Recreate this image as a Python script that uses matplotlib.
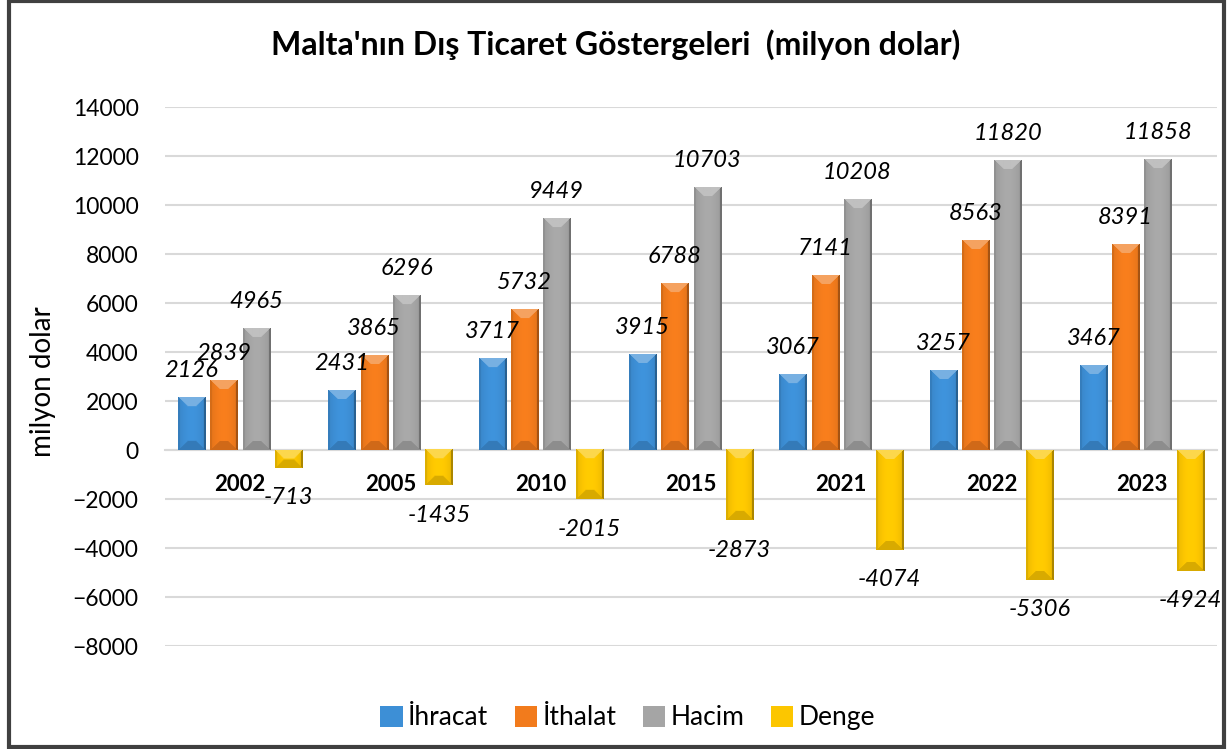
import numpy as np
import matplotlib.pyplot as plt
from matplotlib.colors import to_rgb
from matplotlib.patches import Rectangle

plt.rcParams["font.family"] = ["Lato", "DejaVu Sans"]

years = ["2002", "2005", "2010", "2015", "2021", "2022", "2023"]
ihracat = [2126, 2431, 3717, 3915, 3067, 3257, 3467]
ithalat = [2839, 3865, 5732, 6788, 7141, 8563, 8391]
hacim = [4965, 6296, 9449, 10703, 10208, 11820, 11858]
denge = [-713, -1435, -2015, -2873, -4074, -5306, -4924]

series = ["İhracat", "İthalat", "Hacim", "Denge"]
colors = ["#3d8fd6", "#f27b1c", "#a5a5a5", "#fcc600"]


def shade(ax, bar, col):
    # bevel look: light top facet, darker bottom facet, thin dark sides
    x0, y0 = bar.get_x(), bar.get_y()
    x1, y1 = x0 + bar.get_width(), y0 + bar.get_height()
    ylo, yhi = min(y0, y1), max(y0, y1)
    (px0, py0), (px1, py1) = ax.transData.transform([(x0, ylo), (x1, yhi)])
    w = max(int(round(px1 - px0)), 2)
    h = max(int(round(py1 - py0)), 2)
    yy, xx = np.mgrid[0:h, 0:w] + 0.5
    d_top, d_bot = yy, h - yy
    d_l, d_r = xx, w - xx
    side = np.minimum(d_l, d_r)
    bev = min(9.0, h / 2)
    base = np.array(to_rgb(col))
    t = xx / w
    f = 0.93 + 0.1 * np.sin(np.pi * t)
    img = np.clip(base[None, None, :] * f[..., None], 0, 1)
    top = (d_top < bev) & (d_top < side)
    bot = (d_bot < bev) & (d_bot < side) & ~top
    img[top] = base + (1 - base) * 0.3
    img[bot] = base * 0.86
    edge_l = (d_l < 2.0) & ~top & ~bot
    edge_r = (d_r < 2.0) & ~top & ~bot
    img[edge_l] = base * 0.88
    img[edge_r] = base * 0.68
    ax.imshow(img, extent=(x0, x1, ylo, yhi), origin="upper",
              aspect="auto", zorder=3.5, interpolation="bilinear")


fig = plt.figure(figsize=(12.31, 7.49), dpi=100)
ax = fig.add_axes([0.134, 0.1375, 0.8546, 0.7195])
ax.set_xlim(-0.5, 6.5)
ax.set_ylim(-8000, 14000)

x = np.arange(len(years))
step = 0.215
width = 0.18
handles = []
for i, (name, vals, col) in enumerate(zip(series, [ihracat, ithalat, hacim, denge], colors)):
    bars = ax.bar(x + (i - 1.5) * step, vals, width, color=col, label=name,
                  zorder=3, edgecolor="none")
    handles.append(bars[0])
    for b, v in zip(bars, vals):
        shade(ax, b, col)
        ax.annotate(f"{v}", (b.get_x() + b.get_width() / 2, v),
                    xytext=(0, 19.5 if v > 0 else -21.5), textcoords="offset points",
                    ha="center", va="center", fontsize=17, style="italic", zorder=5)

ax.set_xlim(-0.5, 6.5)
ax.set_ylim(-8000, 14000)
for s in ["left", "right", "top"]:
    ax.spines[s].set_visible(False)
ax.spines["bottom"].set_position(("data", 0))
ax.spines["bottom"].set_color("#d9d9d9")
ax.spines["bottom"].set_linewidth(1.5)
ax.set_yticks(range(-8000, 14001, 2000))
ax.set_xticks(x, years, fontweight="bold", fontsize=16)
ax.tick_params(axis="x", length=0, pad=17)
ax.tick_params(axis="y", length=0, pad=19, labelsize=16.5)
ax.yaxis.grid(True, color="#d9d9d9", lw=1.5, zorder=0)
ax.set_axisbelow(True)

fig.text(0.035, 0.49, "milyon dolar", rotation=90, fontsize=20, ha="center", va="center")
fig.text(0.5005, 0.94, "Malta'nın Dış Ticaret Göstergeleri  (milyon dolar)",
         fontsize=23, fontweight="bold", ha="center", va="center")

fig.legend(handles, series, loc="center", bbox_to_anchor=(0.51, 0.0414), ncol=4,
           frameon=False, fontsize=19, handlelength=0.85, handleheight=0.85,
           handletextpad=0.2, columnspacing=1.0)

fig.add_artist(Rectangle((9 / 1231, 2 / 749), 1215 / 1231, 746 / 749,
                         transform=fig.transFigure, fill=False, ec="#404040", lw=3))

plt.savefig("out.png", dpi=100)
